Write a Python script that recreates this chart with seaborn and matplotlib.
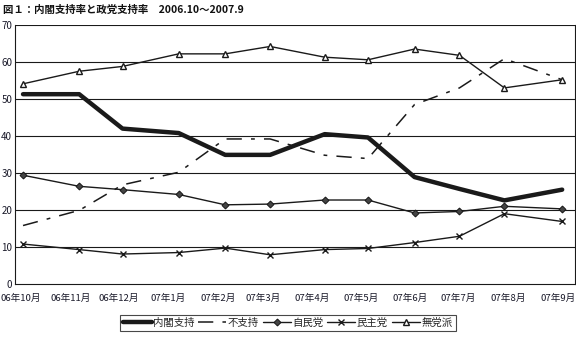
import matplotlib
matplotlib.use("Agg")
import matplotlib.pyplot as plt
import seaborn as sns
import pandas as pd

# ---- data ----
survey_dates = ["2006-10-06", "2006-11-10", "2006-12-07", "2007-01-11", "2007-02-09",
                "2007-03-09", "2007-04-12", "2007-05-09", "2007-06-07", "2007-07-05",
                "2007-08-02", "2007-09-07"]
cabinet_support = [51.3, 51.3, 42.0, 40.8, 34.9, 34.9, 40.5, 39.6, 28.9, 25.7, 22.6, 25.5]
not_support = [15.8, 19.9, 26.8, 30.2, 39.2, 39.2, 34.8, 33.9, 48.5, 53.0, 60.9, 55.2]
ldp = [29.4, 26.4, 25.5, 24.2, 21.4, 21.6, 22.7, 22.7, 19.2, 19.6, 21.0, 20.3]
dpj = [10.8, 9.3, 8.1, 8.5, 9.7, 7.9, 9.3, 9.6, 11.2, 12.9, 19.0, 16.9]
independents = [54.1, 57.5, 58.8, 62.2, 62.2, 64.2, 61.3, 60.6, 63.5, 61.8, 53.0, 55.2]

month_starts = ["2006-10-01", "2006-11-01", "2006-12-01", "2007-01-01", "2007-02-01",
                "2007-03-01", "2007-04-01", "2007-05-01", "2007-06-01", "2007-07-01",
                "2007-08-01", "2007-09-01"]
month_labels = ["06年10月", "06年11月", "06年12月", "07年1月", "07年2月", "07年3月",
                "07年4月", "07年5月", "07年6月", "07年7月", "07年8月", "07年9月"]
y_ticks = [0, 10, 20, 30, 40, 50, 60, 70]
series_names = ["内閣支持", "不支持", "自民党", "民主党", "無党派"]
title_text = "図１：内閣支持率と政党支持率　2006.10～2007.9"

# ---- styling ----
sns.set_theme(style="white")
plt.rcParams["font.family"] = ["Noto Sans CJK JP", "DejaVu Sans"]

fig = plt.figure(figsize=(5.76, 3.43), dpi=100)
ax = fig.add_axes([15 / 576, 1 - 284 / 343, 560 / 576, 259 / 343])

x = pd.to_datetime(survey_dates)
dark = "#1a1a1a"

styles = [
    dict(data=cabinet_support, lw=3.2, marker=None, dashes=None),
    dict(data=not_support, lw=1.1, marker=None, dashes=(10, 6, 2.5, 6)),
    dict(data=ldp, lw=1.0, marker="D", dashes=None),
    dict(data=dpj, lw=1.0, marker="x", dashes=None),
    dict(data=independents, lw=1.0, marker="^", dashes=None),
]

for name, st in zip(series_names, styles):
    kw = dict(x=x, y=st["data"], ax=ax, color=dark, linewidth=st["lw"], label=name)
    if st["marker"] == "D":
        kw.update(marker="D", markersize=3.5, markerfacecolor="#444444", markeredgecolor=dark)
    elif st["marker"] == "x":
        kw.update(marker="x", markersize=5, markeredgewidth=1.0, markeredgecolor=dark)
    elif st["marker"] == "^":
        kw.update(marker="^", markersize=5, markerfacecolor="white", markeredgecolor=dark,
                  markeredgewidth=1.0)
    sns.lineplot(**kw)
    if st["dashes"] is not None:
        ax.lines[-1].set_dashes(st["dashes"])

ax.set_ylim(0, 70)
ax.set_xlim(pd.Timestamp("2006-10-01"), pd.Timestamp("2007-09-15"))
ax.set_yticks(y_ticks)
ax.set_yticklabels([str(v) for v in y_ticks])
ax.tick_params(axis="y", length=0, pad=2, labelsize=7, colors="#1a1a2a")

ms = pd.to_datetime(month_starts)
ax.set_xticks(ms)
ax.set_xticklabels([""] * len(ms))
ax.tick_params(axis="x", which="major", direction="in", length=3, width=0.8, color=dark)
ax.set_xticks(ms + pd.Timedelta(days=3.5), minor=True)
ax.set_xticklabels(month_labels, minor=True)
ax.tick_params(axis="x", which="minor", length=0, pad=7, labelsize=6.9, colors="#1a1a2a")

ax.set_xlabel("")
ax.set_ylabel("")
for yv in y_ticks[1:]:
    ax.axhline(yv, color=dark, lw=0.8, zorder=0)
for s in ax.spines.values():
    s.set_color(dark)
    s.set_linewidth(0.8)
ax.spines["top"].set_visible(False)

leg = ax.legend(loc="center", bbox_to_anchor=(0.5, 1 - 323 / 343), bbox_transform=fig.transFigure,
                ncol=5, fontsize=7.5, frameon=True, fancybox=False, handlelength=2.7,
                handletextpad=0.15, columnspacing=0.35, borderpad=0.3, edgecolor=dark)
leg.get_frame().set_linewidth(0.8)

fig.text(3 / 576, 1 - 10 / 343, title_text, fontsize=7.5, va="center", ha="left",
         color="#111111", fontweight="bold")

fig.savefig("out.png", dpi=100)
